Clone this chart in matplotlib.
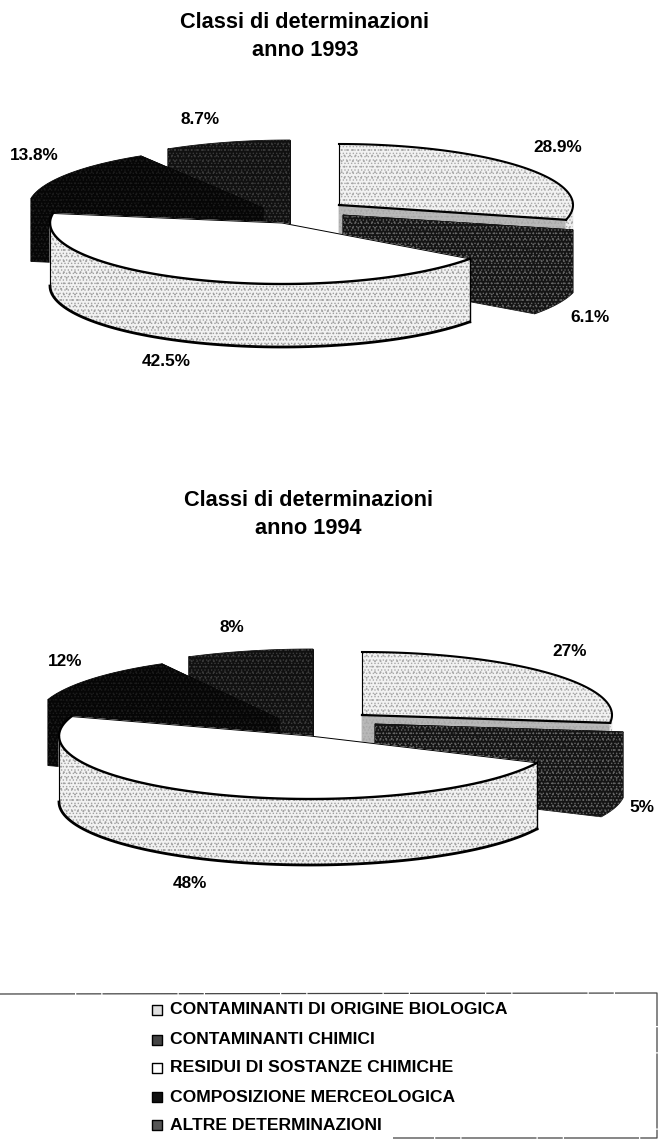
import numpy as np
import matplotlib
matplotlib.use("Agg")
import matplotlib.pyplot as plt
from matplotlib.patches import Polygon

plt.rcParams['font.family'] = ['Liberation Sans', 'DejaVu Sans']
plt.rcParams['hatch.linewidth'] = 0.6

# percentuali
classi = ['CONTAMINANTI DI ORIGINE BIOLOGICA', 'CONTAMINANTI CHIMICI',
          'RESIDUI DI SOSTANZE CHIMICHE', 'COMPOSIZIONE MERCEOLOGICA',
          'ALTRE DETERMINAZIONI']
valori_1993 = [28.9, 6.1, 42.5, 13.8, 8.7]
valori_1994 = [27, 5, 48, 12, 8]
etichette_1993 = ['28.9%', '6.1%', '42.5%', '13.8%', '8.7%']
etichette_1994 = ['27%', '5%', '48%', '12%', '8%']

# layout: centro di ogni fetta (x, y, rx) in pixel
centri_1993 = [(339, 205, 234), (343, 215, 237), (282, 223, 232), (263, 208, 235), (290, 201, 235)]
centri_1994 = [(362, 715, 250), (375, 724, 250), (310, 736, 251), (279, 719, 243), (313, 712, 258)]
pos_etich_1993 = [(558, 147), (590, 318), (166, 362), (34, 155), (200, 120)]
pos_etich_1994 = [(570, 652), (642, 807), (190, 883), (65, 661), (232, 628)]

top_col = ['#f2f2f2', '#141414', '#ffffff', '#060606', '#101010']
wall_col = ['#eeeeee', '#141414', '#f2f2f2', '#060606', '#101010']
face_col = ['#b8b8b8', '#141414', '#f2f2f2', '#060606', '#101010']
hatch_col = ['#a8a8a8', '#666666', '#a0a0a0', '#1c1c1c', '#3c3c3c']


def arco(cx, cy, rx, ry, t0, t1):
    t = np.radians(np.linspace(t0, t1, 80))
    return cx + rx*np.sin(t), cy - ry*np.cos(t)


def riempi(ax, xy, fc, hc, z, puntini=True):
    # fondo pieno con bordo dello stesso colore, cosi' non restano fessure
    ax.add_patch(Polygon(xy, closed=True, facecolor=fc, edgecolor=fc, lw=0.6, zorder=z))
    if puntini:
        ax.add_patch(Polygon(xy, closed=True, facecolor='none', edgecolor=hc, lw=0,
                             hatch='.....', zorder=z))
        ax.add_patch(Polygon(xy, closed=True, facecolor='none', edgecolor=hc, lw=0,
                             hatch='...', zorder=z))


def fetta(ax, centro, t0, t1, ry, depth, i, z):
    cx, cy, rx = centro
    # facce di taglio: prima quella piu' in alto
    facce = sorted([t0, t1], key=lambda a: -np.cos(np.radians(a)))
    for a in facce:
        x, y = arco(cx, cy, rx, ry, a, a)
        xy = [(cx, cy), (x[0], y[0]), (x[0], y[0]+depth), (cx, cy+depth)]
        riempi(ax, xy, face_col[i], hatch_col[i], z)
    # parete esterna
    a0, a1 = max(t0, 90), min(t1, 270)
    if a1 > a0:
        x, y = arco(cx, cy, rx, ry, a0, a1)
        xy = np.r_[np.c_[x, y], np.c_[x, y+depth][::-1]]
        riempi(ax, xy, wall_col[i], hatch_col[i], z)
    # faccia superiore
    x, y = arco(cx, cy, rx, ry, t0, t1)
    xy = np.r_[[(cx, cy)], np.c_[x, y]]
    riempi(ax, xy, top_col[i], hatch_col[i], z, puntini=(i != 2))
    return x, y


def torta(ax, valori, centri, etichette, pos, ry, depth):
    fine = np.cumsum(valori)/np.sum(valori)*360
    inizio = np.r_[0, fine[:-1]]
    # ordine di disegno: dal fondo verso chi guarda
    for z, i in enumerate([0, 1, 4, 3, 2]):
        x, y = fetta(ax, centri[i], inizio[i], fine[i], ry, depth, i, 2+z)
        cx, cy, rx = centri[i]
        if i == 0:
            ax.plot(x, y, color='k', lw=1.5, zorder=2+z)
            ax.plot([cx, cx], [y[0], cy], color='k', lw=0.8, zorder=2+z)
            ax.plot([cx, x[-1]], [cy, y[-1]], color='k', lw=1.6, zorder=2+z)
        if i == 2:
            # bordo superiore e base della parete
            ax.plot(x, y, color='k', lw=1.7, zorder=2+z)
            ax.plot([x[0], cx, x[-1]], [y[0], cy, y[-1]], color='k', lw=0.7, zorder=2+z)
            xb, yb = arco(cx, cy, rx, ry, inizio[i], 270)
            ax.plot(xb, yb+depth, color='k', lw=2, zorder=2+z)
            ax.plot([xb[0], xb[0]], [yb[0], yb[0]+depth], color='k', lw=1, zorder=2+z)
            ax.plot([xb[-1], xb[-1]], [yb[-1], yb[-1]+depth], color='k', lw=0.8, zorder=2+z)
    for testo, (px, py) in zip(etichette, pos):
        ax.text(px, py, testo, fontsize=12.4, fontweight='bold', ha='center', va='center', zorder=10)


fig = plt.figure(figsize=(6.58, 11.4), dpi=100)
ax = fig.add_axes([0, 0, 1, 1])
ax.set_xlim(0, 658)
ax.set_ylim(1140, 0)
ax.axis('off')

titoli = [('Classi di determinazioni', 305, 23), ('anno 1993', 305, 50),
          ('Classi di determinazioni', 308, 500), ('anno 1994', 308, 528)]
for t, tx, ty in titoli:
    ax.text(tx, ty, t, fontsize=15.7, fontweight='bold', ha='center', va='center')

torta(ax, valori_1993, centri_1993, etichette_1993, pos_etich_1993, 61, 63)
torta(ax, valori_1994, centri_1994, etichette_1994, pos_etich_1994, 63, 66)

# legenda
righe_y = [1010, 1040, 1068, 1097, 1125]
col_leg = ['#e0e0e0', '#444444', '#ffffff', '#111111', '#555555']
for nome, yy, c in zip(classi, righe_y, col_leg):
    ax.scatter([157], [yy], marker='s', s=42, facecolor=c, edgecolor='k', lw=1, zorder=5)
    ax.text(170, yy, nome, fontsize=12.6, fontweight='bold', ha='left', va='center')

ax.plot([0, 657, 657, 393], [994, 993, 1138, 1138], color='#444444', lw=0.9,
        linestyle=(0, (60, 1, 20, 1)))

fig.savefig('out.png', dpi=100)
